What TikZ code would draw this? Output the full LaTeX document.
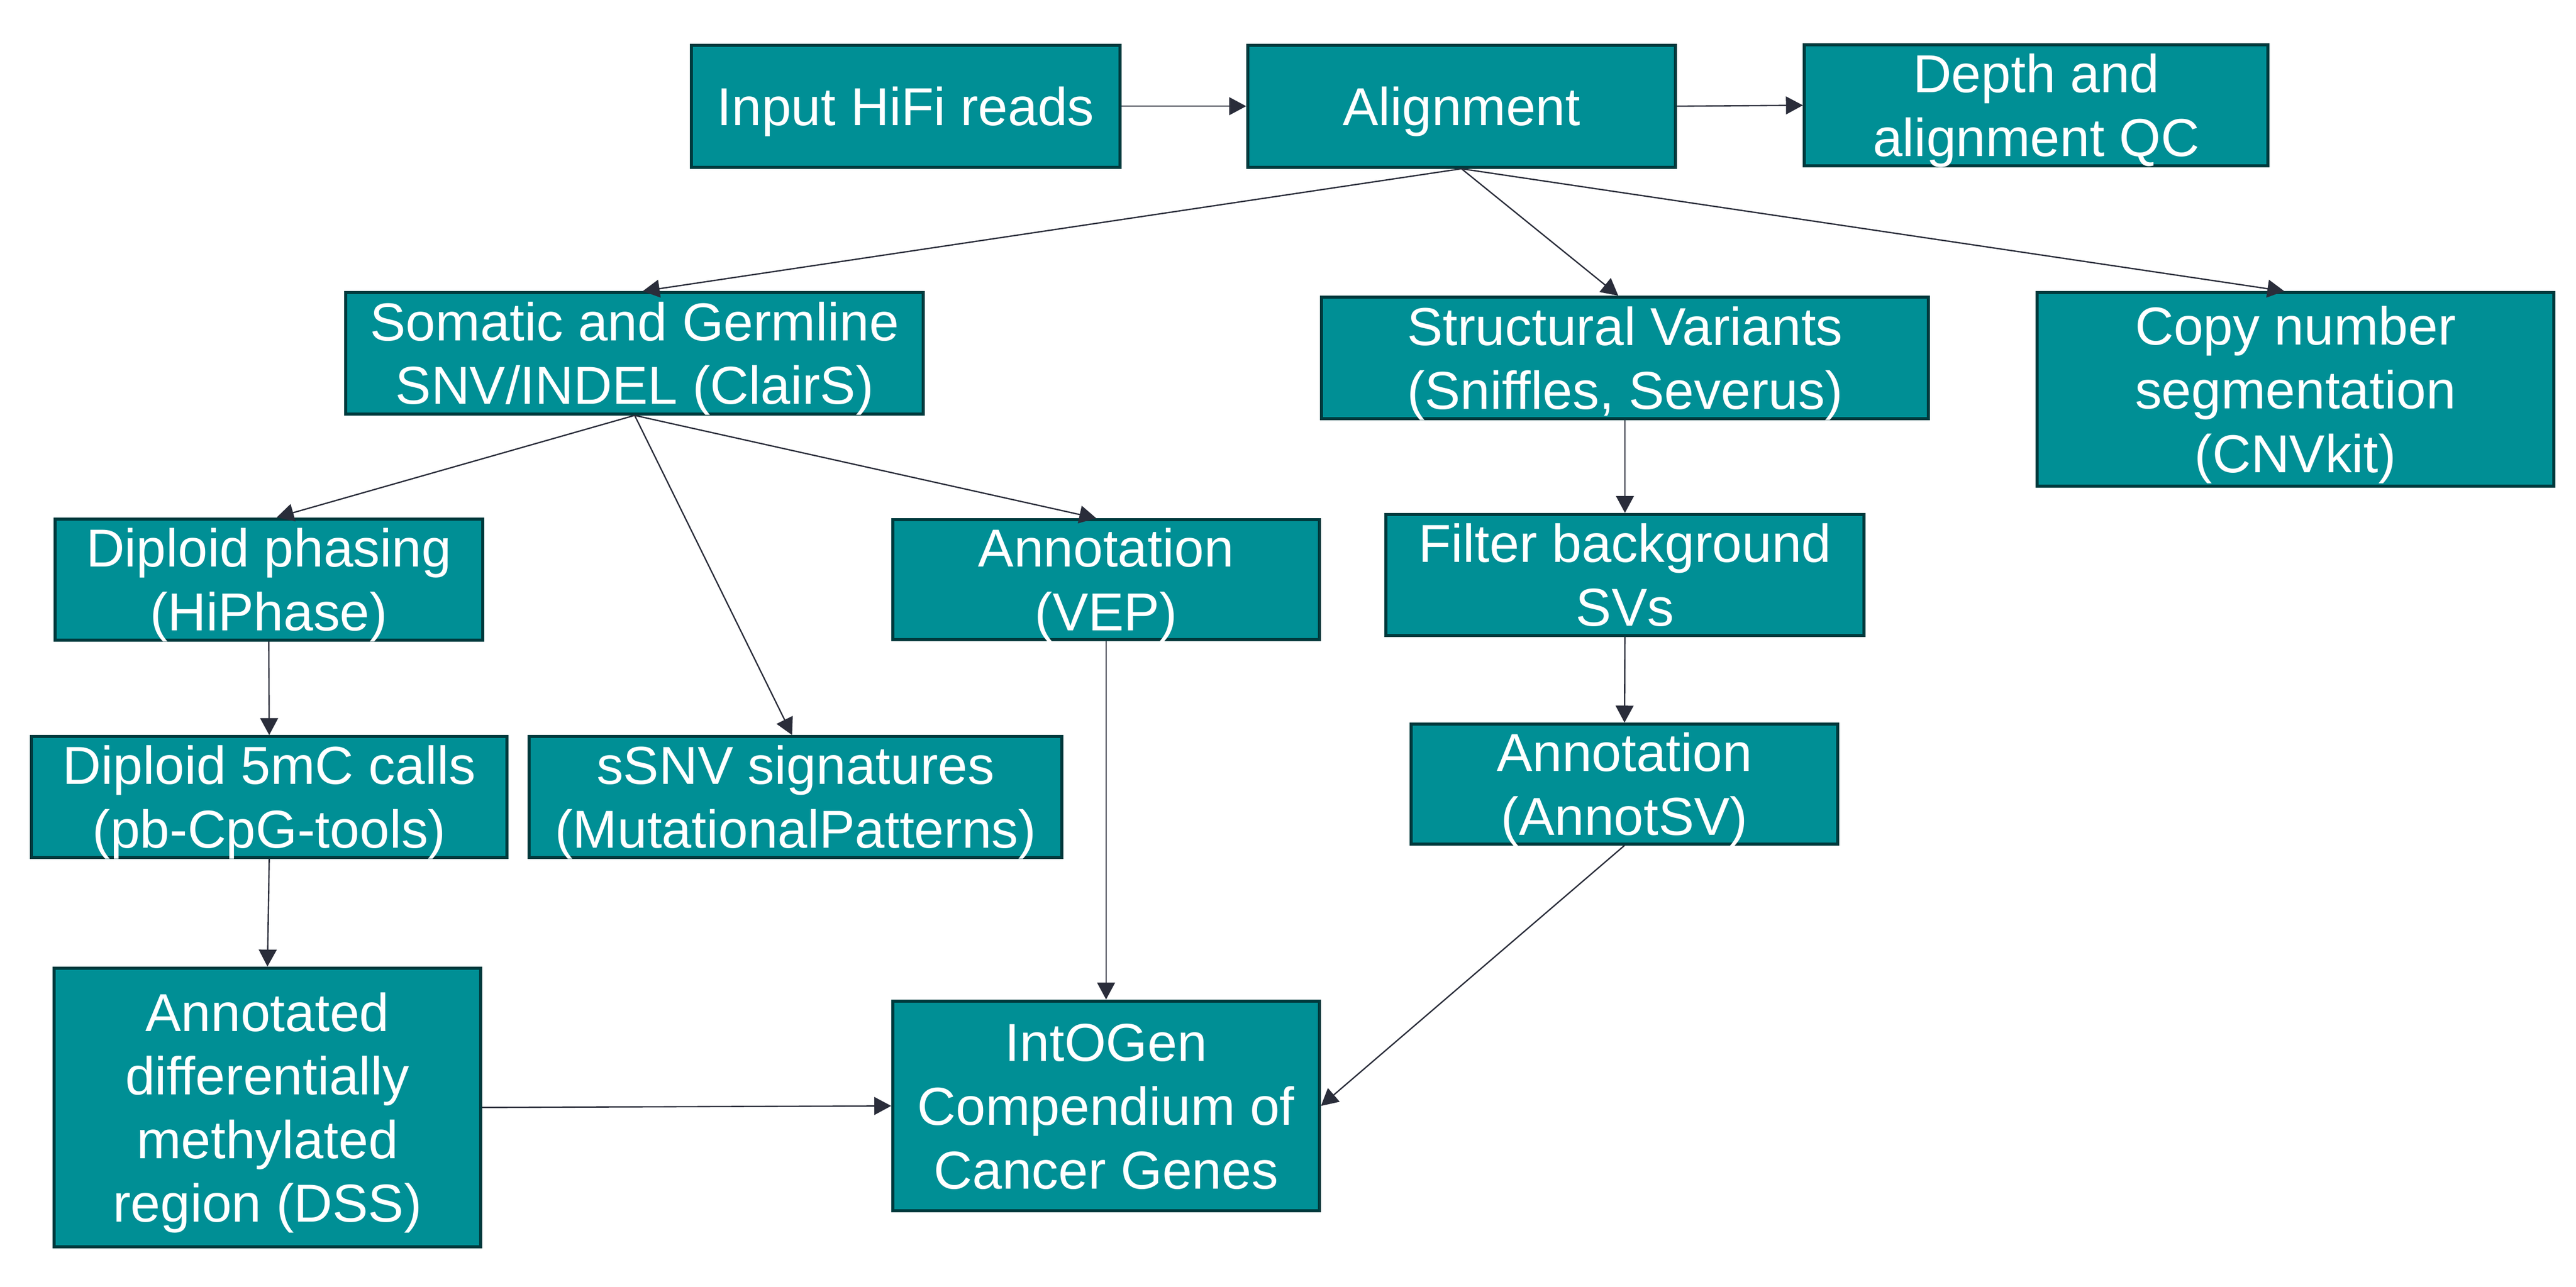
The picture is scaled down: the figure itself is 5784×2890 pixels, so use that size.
\documentclass[tikz,border=0pt]{standalone}
\usepackage{fontspec}
\setmainfont{Liberation Sans}
\usepackage{array}
\usetikzlibrary{arrows.meta}
\definecolor{boxfill}{HTML}{008F95}
\definecolor{boxline}{HTML}{003A3D}
\definecolor{arrowcol}{HTML}{2A2D3A}
\newcommand\Ls{\rule[-2.85pt]{0pt}{14.3pt}}
\newcommand\Bt[1]{\vbox to 0pt{\vss\hbox{\begin{tabular}{@{}>{\Ls}c@{}}#1\end{tabular}}\vss}}
\renewcommand\arraystretch{0}
\tikzset{
  proc/.style 2 args={rectangle, draw=boxline, fill=boxfill, line width=0.7pt,
    text=white, inner sep=0pt, minimum width=#1, minimum height=#2,
    font=\fontsize{12pt}{14.3pt}\selectfont},
  conn/.style={draw=arrowcol, line width=0.3pt,
    -{Triangle[length=3.8pt,width=4pt]}}
}
\begin{document}
\begin{tikzpicture}[x=0.1pt,y=-0.1pt]
\useasboundingbox[fill=white] (0,0) rectangle (5784,2890);
\node[proc={96.2pt}{27.4pt}] (input) at (2033.5,238.5) {\Bt{Input HiFi reads}};
\node[proc={96.0pt}{27.4pt}] (align) at (3281.5,238.5) {\Bt{Alignment}};
\node[proc={104.1pt}{27.2pt}] (depth) at (4572,236.5) {\Bt{Depth and\\alignment QC}};
\node[proc={129.7pt}{27.2pt}] (somatic) at (1425,793.5) {\Bt{Somatic and Germline\\SNV/INDEL (ClairS)}};
\node[proc={136.2pt}{27.3pt}] (sv) at (3648.5,804) {\Bt{Structural Variants\\(Sniffles, Severus)}};
\node[proc={116.1pt}{43.5pt}] (cnv) at (5154,875) {\Bt{Copy number\\segmentation\\(CNVkit)}};
\node[proc={96.0pt}{27.2pt}] (phasing) at (603.5,1301.5) {\Bt{Diploid phasing\\(HiPhase)}};
\node[proc={95.8pt}{26.9pt}] (vep) at (2483.5,1302) {\Bt{Annotation\\(VEP)}};
\node[proc={107.4pt}{27.2pt}] (filter) at (3648.5,1291.5) {\Bt{Filter background\\SVs}};
\node[proc={106.8pt}{27.1pt}] (mc5) at (604.5,1790) {\Bt{Diploid 5mC calls\\(pb-CpG-tools)}};
\node[proc={119.6pt}{27.1pt}] (ssnv) at (1786.5,1790) {\Bt{sSNV signatures\\(MutationalPatterns)}};
\node[proc={95.8pt}{26.9pt}] (annotsv) at (3647.5,1761) {\Bt{Annotation\\(AnnotSV)}};
\node[proc={95.8pt}{62.6pt}] (dss) at (600.5,2487.5) {\Bt{Annotated\\differentially\\methylated\\region (DSS)}};
\node[proc={95.8pt}{47.1pt}] (intogen) at (2483.5,2484) {\Bt{IntOGen\\Compendium of\\Cancer Genes}};
\draw[conn] (input.east) -- (align.west);
\draw[conn] (align.east) -- (depth.west);
\draw[conn] (align.south) -- ([xshift=1.8pt]somatic.north);
\draw[conn] (align.south) -- ([xshift=-1.5pt]sv.north);
\draw[conn] (align.south) -- ([xshift=-2.5pt]cnv.north);
\draw[conn] (somatic.south) -- ([xshift=1.8pt]phasing.north);
\draw[conn] (somatic.south) -- ([xshift=-0.8pt]ssnv.north);
\draw[conn] (somatic.south) -- ([xshift=-2.2pt]vep.north);
\draw[conn] (phasing.south) -- (mc5.north);
\draw[conn] (mc5.south) -- (dss.north);
\draw[conn] (vep.south) -- (intogen.north);
\draw[conn] (sv.south) -- (filter.north);
\draw[conn] (filter.south) -- (annotsv.north);
\draw[conn] (annotsv.south) -- (intogen.east);
\draw[conn] (dss.east) -- (intogen.west);
\end{tikzpicture}
\end{document}
